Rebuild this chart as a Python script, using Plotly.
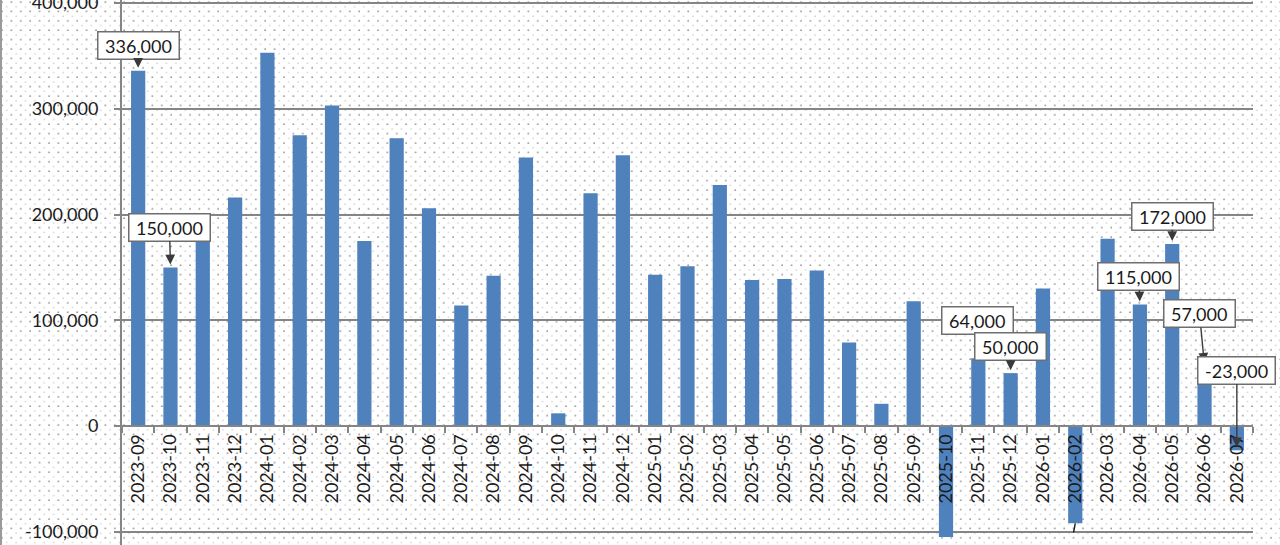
import base64
import plotly.graph_objects as go

# ---------------- data ----------------
months = [
    "2023-09", "2023-10", "2023-11", "2023-12",
    "2024-01", "2024-02", "2024-03", "2024-04", "2024-05", "2024-06",
    "2024-07", "2024-08", "2024-09", "2024-10", "2024-11", "2024-12",
    "2025-01", "2025-02", "2025-03", "2025-04", "2025-05", "2025-06",
    "2025-07", "2025-08", "2025-09", "2025-10", "2025-11", "2025-12",
    "2026-01", "2026-02", "2026-03", "2026-04", "2026-05", "2026-06", "2026-07",
]
payrolls = [
    336000, 150000, 199000, 216000,
    353000, 275000, 303000, 175000, 272000, 206000,
    114000, 142000, 254000, 12000, 220000, 256000,
    143000, 151000, 228000, 138000, 139000, 147000,
    79000, 21000, 118000, -105000, 64000, 50000,
    130000, -92000, 177000, 115000, 172000, 57000, -23000,
]
y_tick_values = [-100000, 0, 100000, 200000, 300000, 400000]
y_tick_labels = ["-100,000", "0", "100,000", "200,000", "300,000", "400,000"]
callout_months = ["2023-09", "2023-10", "2025-11", "2025-12", "2026-04",
                  "2026-05", "2026-06", "2026-07"]
# leader line of a callout whose box lies below the visible picture
offscreen_callout_months = ["2026-02"]

# ---------------- styling / layout ----------------
W, H = 1280, 545
ML, MR, MT, MB = 122, 27, 0, 0
Y_MIN, Y_MAX = -112530, 402840
FONT = "Lato"
TXT = "#1a1a1a"
GRID = "#858585"

# callout offsets (px) of the label box from its bar end
callout_offsets = {
    "2023-09": (0, -25),
    "2023-10": (-1, -40),
    "2025-11": (-1, -38),
    "2025-12": (0, -27),
    "2026-04": (-1, -28),
    "2026-05": (0, -28),
    "2026-06": (-5, -52),
    "2026-07": (0, -80),
    "2026-02": (-4, 40),
}


def fmt(v):
    return f"{v:,}".replace("\u2212", "-")


fig = go.Figure()
fig.add_trace(go.Bar(
    x=months, y=payrolls,
    marker=dict(color="#4F81BD", line=dict(width=0)),
    width=0.44,
    hoverinfo="x+y",
))

# dotted background pattern (covers whole page)
svg = f"""<svg xmlns='http://www.w3.org/2000/svg' width='{W}' height='{H}'>
<defs><pattern id='p' width='9.4' height='9.4' patternUnits='userSpaceOnUse'>
<circle cx='2' cy='2' r='0.9' fill='#8f8f8f'/>
<circle cx='6.7' cy='6.7' r='0.7' fill='#b3b3b3'/>
</pattern></defs>
<rect width='100%' height='100%' fill='white'/>
<rect width='100%' height='100%' fill='url(#p)'/>
<rect x='0' y='0' width='2' height='{H}' fill='#9a9a9a'/>
</svg>"""
src = "data:image/svg+xml;base64," + base64.b64encode(svg.encode()).decode()
pw = W - ML - MR
ph = H - MT - MB
fig.add_layout_image(dict(
    source=src, xref="paper", yref="paper",
    x=-ML / pw, y=1 + MT / ph, sizex=W / pw, sizey=H / ph,
    xanchor="left", yanchor="top", sizing="stretch", layer="below",
))

for m in callout_months:
    v = payrolls[months.index(m)]
    ax, ay = callout_offsets[m]
    fig.add_annotation(
        x=m, y=v, xref="x", yref="y",
        text="\u00a0" + fmt(v) + "\u00a0", showarrow=True,
        ax=ax, ay=ay,
        arrowhead=2,
        arrowsize=1.4, arrowwidth=1.4, arrowcolor="#3a3a3a",
        standoff=3, startstandoff=0,
        bgcolor="white", bordercolor="#6e6e6e", borderwidth=1.5, borderpad=2,
        font=dict(family=FONT, size=18, color=TXT),
    )

for m in offscreen_callout_months:
    v = payrolls[months.index(m)]
    ax, ay = callout_offsets[m]
    fig.add_annotation(
        x=m, y=v, xref="x", yref="y",
        text="\u00a0" + fmt(v) + "\u00a0", showarrow=True,
        ax=ax, ay=ay,
        arrowhead=0, arrowwidth=1.4, arrowcolor="#1a1a1a",
        standoff=0, startstandoff=0,
        bgcolor="rgba(0,0,0,0)", bordercolor="rgba(0,0,0,0)",
        font=dict(family=FONT, size=18, color="rgba(0,0,0,0)"),
    )

zero_pos = (0 - Y_MIN) / (Y_MAX - Y_MIN)

fig.update_layout(
    width=W, height=H,
    margin=dict(l=ML, r=MR, t=MT, b=MB, autoexpand=False),
    paper_bgcolor="white",
    plot_bgcolor="rgba(0,0,0,0)",
    showlegend=False,
    font=dict(family=FONT, size=18, color=TXT),
    xaxis=dict(
        type="category",
        range=[-0.5, len(months) - 0.5],
        autorange=False,
        anchor="free", position=zero_pos,
        automargin=False,
        tickangle=-90,
        tickson="boundaries",
        ticks="outside", ticklen=6, tickcolor=GRID, tickwidth=1.5,
        showline=True, linecolor=GRID, linewidth=2,
        showgrid=False,
        tickfont=dict(family=FONT, size=18, color=TXT),
    ),
    yaxis=dict(
        range=[Y_MIN, Y_MAX],
        autorange=False,
        automargin=False,
        tickvals=y_tick_values, ticktext=y_tick_labels,
        ticks="outside", ticklen=6, tickcolor=GRID, tickwidth=1.5,
        ticklabelstandoff=12,
        ticklabeloverflow="allow",
        showline=True, linecolor=GRID, linewidth=2,
        showgrid=True, gridcolor=GRID, gridwidth=1.5,
        zeroline=False,
        tickfont=dict(family=FONT, size=18, color=TXT),
    ),
    bargap=0.56,
)

fig.write_html(
    "out.html",
    config={"displayModeBar": False},
    post_script="document.body.style.margin='0px';document.body.style.overflow='hidden';",
)
